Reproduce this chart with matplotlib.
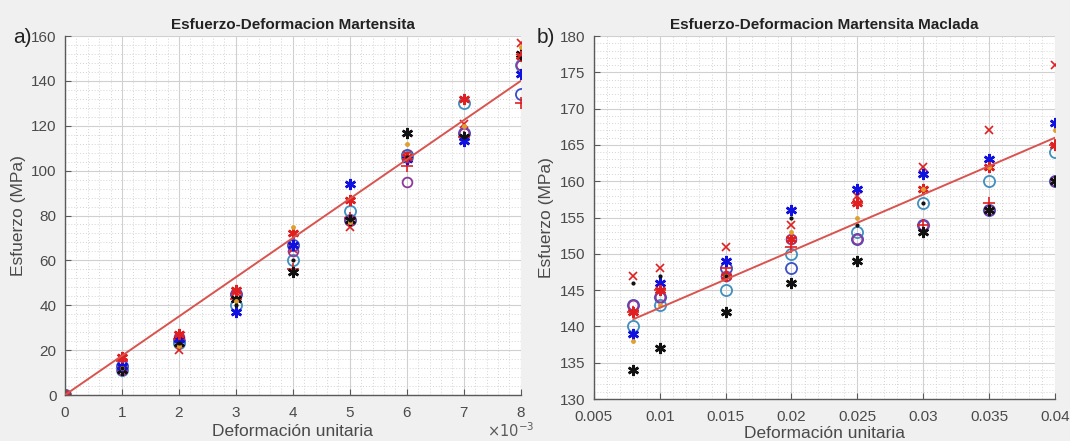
import numpy as np
import matplotlib
matplotlib.use("Agg")
import matplotlib.pyplot as plt
from matplotlib.ticker import AutoMinorLocator, FuncFormatter, MultipleLocator

plt.rcParams["font.family"] = ["Liberation Sans", "DejaVu Sans"]

# ---------------- a) Martensita ----------------
strain_a = [0, 0.001, 0.002, 0.003, 0.004, 0.005, 0.006, 0.007, 0.008]
a_blue_ast = [0, 13, 25, 37, 67, 94, 105, 113, 143]
a_red_ast = [0, 17, 27, 47, 72, 87, 106, 132, 151]
a_black_ast = [0, 11, 23, 43, 55, 78, 117, 115, 152]
a_blue_o = [0, 13, 24, 45, 67, 78, 107, 117, 134]
a_cyan_o = [0, 11, 23, 40, 60, 82, 106, 130, 147]
a_purple_o = [0, 11, 26, 45, 64, 78, 95, 117, 147]
a_red_plus = [0, 15, 25, 43, 56, 79, 102, 115, 130]
a_red_x = [0, 11, 20, 46, 65, 75, 107, 121, 157]
a_orange_dot = [0, 12, 22, 42, 75, 77, 112, 120, 155]
a_black_dot = [0, 12, 23, 40, 60, 78, 106, 115, 150]
fit_a_x = [0, 0.008]
fit_a_y = [0, 140]

# ---------------- b) Martensita Maclada ----------------
strain_b = [0.008, 0.01, 0.015, 0.02, 0.025, 0.03, 0.035, 0.04]
b_blue_ast = [139, 146, 149, 156, 159, 161, 163, 168]
b_red_ast = [142, 145, 147, 152, 157, 159, 162, 165]
b_black_ast = [134, 137, 142, 146, 149, 153, 156, 160]
b_blue_o = [143, 144, 148, 148, 152, 154, 156, 160]
b_cyan_o = [140, 143, 145, 150, 153, 157, 160, 164]
b_purple_o = [143, 144, 147, 152, 152, 154, 156, 160]
b_red_plus = [142, 145, 148, 151, 157, 154, 157, 165]
b_red_x = [147, 148, 151, 154, 158, 162, 167, 176]
b_orange_dot = [138, 143, 147, 153, 155, 159, 162, 167]
b_black_dot = [146, 147, 147, 155, 154, 157, 156, 160]
fit_b_x = [0.008, 0.04]
fit_b_y = [141, 166]

BLUE = "#1010e0"
RED = "#e02020"
BLACK = "#111111"
DBLUE = "#3a4fc8"
CYAN = "#3f8fc0"
PURPLE = "#8a3a9a"
ORANGE = "#e0a030"
ASTER = (6, 2, 0)


def draw_points(ax, x, s):
    (ba, ra, ka, bo, co, po, rp, rx, od, kd) = s
    ax.plot(x, bo, ls="none", marker="o", ms=8, mfc="none", mec=DBLUE, mew=1.3)
    ax.plot(x, co, ls="none", marker="o", ms=8, mfc="none", mec=CYAN, mew=1.3)
    ax.plot(x, po, ls="none", marker="o", ms=7, mfc="none", mec=PURPLE, mew=1.3)
    ax.plot(x, rp, ls="none", marker="+", ms=9, mec=RED, mew=1.2)
    ax.plot(x, rx, ls="none", marker="x", ms=6, mec=RED, mew=1.2)
    ax.plot(x, ka, ls="none", marker=ASTER, ms=8, mec=BLACK, mew=1.8)
    ax.plot(x, ba, ls="none", marker=ASTER, ms=8, mec=BLUE, mew=1.8)
    ax.plot(x, ra, ls="none", marker=ASTER, ms=8, mec=RED, mew=1.8)
    ax.plot(x, od, ls="none", marker=".", ms=5, color=ORANGE)
    ax.plot(x, kd, ls="none", marker=".", ms=4, color=BLACK)


def style_axes(ax):
    ax.set_facecolor("white")
    ax.grid(True, which="major", color="#d0d0d0", lw=0.8, ls="-")
    ax.grid(True, which="minor", color="#d4d4d4", lw=0.7, ls=(0, (1, 2)))
    ax.set_axisbelow(True)
    for side in ("top", "right"):
        ax.spines[side].set_visible(False)
    for side in ("left", "bottom"):
        ax.spines[side].set_color("#5a5a5a")
        ax.spines[side].set_linewidth(1.0)
    ax.tick_params(which="major", direction="in", length=4, colors="#5a5a5a",
                   labelcolor="#4a4a4a", labelsize=11, top=False, right=False)
    ax.tick_params(axis="x", which="major", pad=8)
    ax.tick_params(axis="y", which="major", pad=6)
    ax.tick_params(which="minor", length=0)
    ax.xaxis.set_minor_locator(AutoMinorLocator(5))
    ax.yaxis.set_minor_locator(AutoMinorLocator(5))


fig = plt.figure(figsize=(10.7, 4.41), dpi=100)
fig.patch.set_facecolor("#f0f0f0")

ax1 = fig.add_axes([0.0607, 0.1043, 0.426, 0.814])
ax2 = fig.add_axes([0.555, 0.0952, 0.431, 0.823])

# panel a
style_axes(ax1)
draw_points(ax1, strain_a, (a_blue_ast, a_red_ast, a_black_ast, a_blue_o, a_cyan_o,
                           a_purple_o, a_red_plus, a_red_x, a_orange_dot, a_black_dot))
ax1.plot(fit_a_x, fit_a_y, color="#d9534f", lw=1.4, zorder=5)
ax1.set_xlim(0, 0.008)
ax1.set_ylim(0, 160)
ax1.xaxis.set_major_locator(MultipleLocator(0.001))
ax1.xaxis.set_major_formatter(FuncFormatter(lambda v, p: f"{v * 1e3:.0f}"))
ax1.yaxis.set_major_locator(MultipleLocator(20))
ax1.set_title("Esfuerzo-Deformacion Martensita", fontsize=11, fontweight="bold",
              color="#222222", pad=5)
ax1.set_xlabel("Deformación unitaria", fontsize=12.5, color="#4a4a4a", labelpad=3)
ax1.set_ylabel("Esfuerzo (MPa)", fontsize=12.5, color="#4a4a4a", labelpad=4)
fig.text(0.455, 0.008, r"$\times10^{-3}$", fontsize=10.5, color="#5a5a5a")
fig.text(0.012, 0.915, "a)", fontsize=15, color="#222222", va="center")

# panel b
style_axes(ax2)
draw_points(ax2, strain_b, (b_blue_ast, b_red_ast, b_black_ast, b_blue_o, b_cyan_o,
                           b_purple_o, b_red_plus, b_red_x, b_orange_dot, b_black_dot))
ax2.plot(fit_b_x, fit_b_y, color="#d9534f", lw=1.4, zorder=5)
ax2.set_xlim(0.005, 0.04)
ax2.set_ylim(130, 180)
ax2.xaxis.set_major_locator(MultipleLocator(0.005))
ax2.xaxis.set_major_formatter(FuncFormatter(lambda v, p: f"{v:.3f}".rstrip("0")))
ax2.yaxis.set_major_locator(MultipleLocator(5))
ax2.set_title("Esfuerzo-Deformacion Martensita Maclada", fontsize=11,
              fontweight="bold", color="#222222", pad=5)
ax2.set_xlabel("Deformación unitaria", fontsize=12.5, color="#4a4a4a", labelpad=1)
ax2.set_ylabel("Esfuerzo (MPa)", fontsize=12.5, color="#4a4a4a", labelpad=4)
fig.text(0.502, 0.915, "b)", fontsize=15, color="#222222", va="center")

fig.savefig("out.png", dpi=100, facecolor=fig.get_facecolor())
